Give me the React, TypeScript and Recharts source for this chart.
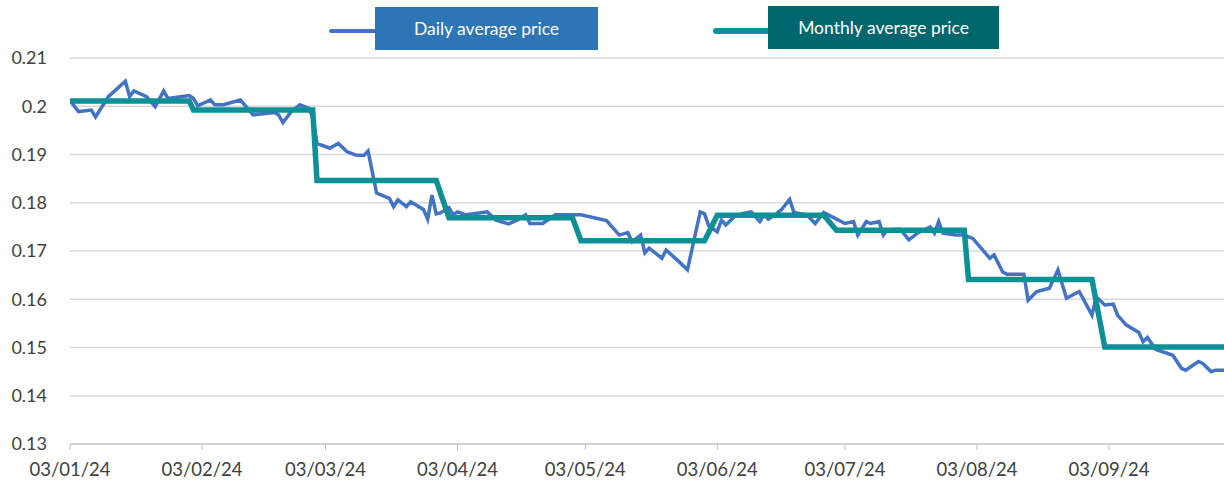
import { LineChart, Line, XAxis, YAxis, CartesianGrid } from "recharts";

const START = Date.UTC(2024, 0, 3);
const DAY = 86400000;

// days since 03/01/24 and daily average price
const dailyDays = [
  0, 2, 5, 6, 9, 13, 14, 15, 18, 20, 22, 23, 28, 29, 30, 33, 34, 36, 40, 41, 43, 48, 49, 50, 52, 54, 56, 57,
  58, 61, 63, 65, 67, 69, 70, 72, 75, 76, 77, 79, 80, 83, 84, 85, 86, 87, 89, 90, 91, 93, 98, 100, 103, 105,
  107, 108, 111, 114, 118, 120, 126, 129, 131, 132, 134, 135, 136, 139, 140, 143, 145, 148, 149, 150, 152,
  153, 154, 156, 158, 160, 162, 163, 164, 166, 167, 169, 170, 173, 175, 177, 180, 182, 184, 185, 187, 188,
  190, 191, 192, 195, 197, 199, 202, 203, 204, 205, 208, 210, 212, 216, 217, 219, 220, 224, 225, 227, 230,
  232, 234, 237, 240, 241, 243, 245, 246, 248, 251, 252, 253, 255, 259, 261, 262, 265, 266, 268, 269, 271,
];
const dailyPrices = [
  0.2012, 0.1989, 0.1992, 0.1978, 0.202, 0.2052, 0.202, 0.2032, 0.202, 0.1999, 0.2032, 0.2016, 0.2022, 0.2016,
  0.2001, 0.2013, 0.2003, 0.2003, 0.2013, 0.2003, 0.1982, 0.1987, 0.1982, 0.1966, 0.1989, 0.2003, 0.1996, 0.1978,
  0.1923, 0.1913, 0.1923, 0.1906, 0.1899, 0.1898, 0.1907, 0.182, 0.1809, 0.1792, 0.1806, 0.1792, 0.1802, 0.1786,
  0.1766, 0.1816, 0.1777, 0.1779, 0.179, 0.1775, 0.1781, 0.1775, 0.1781, 0.1764, 0.1756, 0.1764, 0.1775, 0.1757,
  0.1757, 0.1775, 0.1775, 0.1775, 0.1763, 0.1733, 0.1738, 0.1719, 0.1733, 0.1696, 0.1706, 0.1685, 0.1702, 0.1678,
  0.1661, 0.1781, 0.1777, 0.1752, 0.174, 0.1764, 0.1754, 0.1771, 0.1778, 0.1781, 0.1761, 0.1775, 0.1766, 0.1778,
  0.1785, 0.1807, 0.178, 0.1775, 0.1757, 0.178, 0.1766, 0.1757, 0.1761, 0.1733, 0.1761, 0.1757, 0.1761, 0.1733,
  0.1744, 0.1745, 0.1723, 0.1737, 0.175, 0.1737, 0.1761, 0.1737, 0.1733, 0.1733, 0.1726, 0.1685, 0.1692, 0.1657,
  0.1652, 0.1652, 0.1598, 0.1616, 0.1623, 0.1661, 0.1602, 0.1616, 0.1567, 0.1605, 0.1588, 0.159, 0.1567, 0.1547,
  0.1531, 0.1512, 0.1521, 0.1496, 0.1484, 0.1457, 0.1453, 0.1471, 0.1467, 0.145, 0.1453, 0.1453,
];

// first and last trading day of each month (days since 03/01/24) and monthly average
const monthFirstDay = [0, 29, 58, 89, 120, 152, 180, 211, 243];
const monthLastDay = [28, 57, 86, 118, 149, 177, 210, 240, 271];
const monthlyPrices = [0.2011, 0.1992, 0.1846, 0.1769, 0.1721, 0.1774, 0.1743, 0.1641, 0.1501];

const xTicks = [
  "2024-01-03", "2024-02-03", "2024-03-03", "2024-04-03", "2024-05-03",
  "2024-06-03", "2024-07-03", "2024-08-03", "2024-09-03",
];
const yTicks = [0.13, 0.14, 0.15, 0.16, 0.17, 0.18, 0.19, 0.2, 0.21];

const dailyData = dailyDays.map((d, i) => ({ t: START + d * DAY, price: dailyPrices[i] }));
const monthlyData = monthlyPrices.flatMap((p, i) => [
  { t: START + monthFirstDay[i] * DAY, price: p },
  { t: START + monthLastDay[i] * DAY, price: p },
]);

const fmtDate = (v: number) => {
  const d = new Date(v);
  const dd = String(d.getUTCDate()).padStart(2, "0");
  const mm = String(d.getUTCMonth() + 1).padStart(2, "0");
  const yy = String(d.getUTCFullYear()).slice(2);
  return `${dd}/${mm}/${yy}`;
};

const FONT = "Lato, 'Open Sans', sans-serif";
const DAILY = "#4472C4";
const MONTHLY = "#0E9196";

export default function App() {
  return (
    <div style={{ position: "fixed", left: 0, top: 0, width: 1224, height: 491, background: "#fff", fontFamily: FONT }}>
      {/* legend */}
      <div style={{ position: "absolute", left: 329, top: 29, width: 48, height: 4, background: DAILY, borderRadius: 2 }} />
      <div
        style={{
          position: "absolute", left: 375, top: 7, width: 223, height: 43, background: "#2E75B6",
          color: "#fff", fontSize: 17.5, display: "flex", alignItems: "center", justifyContent: "center",
        }}
      >
        Daily average price
      </div>
      <div style={{ position: "absolute", left: 713, top: 28, width: 58, height: 6, background: MONTHLY, borderRadius: 3 }} />
      <div
        style={{
          position: "absolute", left: 768, top: 6, width: 231, height: 43, background: "#00666E",
          color: "#fff", fontSize: 17.5, display: "flex", alignItems: "center", justifyContent: "center",
        }}
      >
        Monthly average price
      </div>

      <LineChart width={1224} height={491} margin={{ top: 58, right: 0, bottom: 0, left: 0 }}>
        <CartesianGrid vertical={false} stroke="#d9d9d9" strokeWidth={1.5} />
        <XAxis
          type="number"
          dataKey="t"
          domain={[START, START + 271 * DAY]}
          ticks={xTicks.map((s) => Date.parse(s))}
          tickFormatter={fmtDate}
          height={47}
          axisLine={{ stroke: "#bfbfbf" }}
          tickLine={{ stroke: "#bfbfbf" }}
          tickSize={6}
          tickMargin={13}
          tick={{ fontSize: 18.5, fill: "#404040", fontFamily: FONT }}
          allowDataOverflow
        />
        <YAxis
          type="number"
          domain={[0.13, 0.21]}
          ticks={yTicks}
          width={70}
          axisLine={false}
          tickLine={false}
          tickSize={0}
          tickMargin={23}
          tick={{ fontSize: 18, fill: "#404040", fontFamily: FONT }}
        />
        <Line
          data={dailyData}
          dataKey="price"
          type="linear"
          stroke={DAILY}
          strokeWidth={3.5}
          dot={false}
          isAnimationActive={false}
        />
        <Line
          data={monthlyData}
          dataKey="price"
          type="linear"
          stroke={MONTHLY}
          strokeWidth={5.5}
          dot={false}
          isAnimationActive={false}
        />
      </LineChart>
    </div>
  );
}
